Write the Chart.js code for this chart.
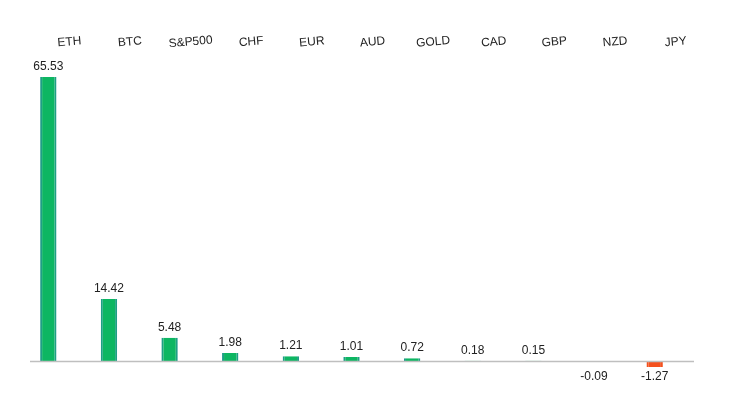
<!DOCTYPE html><html><head><script src="https://cdn.jsdelivr.net/npm/chart.js@4"></script>
<style>body{margin:0;background:#fff}#w{width:736px;height:406px}</style></head><body><div id="w"><canvas id="c"></canvas></div>
<script>
const categories=["ETH","BTC","S&P500","CHF","EUR","AUD","GOLD","CAD","GBP","NZD","JPY"];
const values=[65.53,14.42,5.48,1.98,1.21,1.01,0.72,0.18,0.15,-0.09,-1.27];
const valueLabels=["65.53","14.42","5.48","1.98","1.21","1.01","0.72","0.18","0.15","-0.09","-1.27"];
const labelPlugin={id:'lbl',afterDatasetsDraw(ch){
 const ctx=ch.ctx,x=ch.scales.x,y=ch.scales.y,meta=ch.getDatasetMeta(0);
 ctx.save();
 ctx.strokeStyle='#bfbfbf';ctx.lineWidth=1.5;ctx.beginPath();
 const y0=Math.round(y.getPixelForValue(0))+0.5;ctx.moveTo(30,y0);ctx.lineTo(694,y0);ctx.stroke();
 ctx.fillStyle='#222';ctx.font='12px "Liberation Sans", Calibri, sans-serif';ctx.textAlign='center';
 meta.data.forEach((b,i)=>{
  const v=values[i];
  let ty=v>=0?b.y-7:y0+18;
  ctx.textBaseline='alphabetic';
  ctx.fillText(valueLabels[i],b.x,ty);
  ctx.save();ctx.translate(b.x+21,42);ctx.rotate(-5*Math.PI/180);ctx.textBaseline='middle';
  ctx.fillText(categories[i],0,0);ctx.restore();
 });
 ctx.restore();}};
new Chart(document.getElementById('c'),{type:'bar',
 data:{labels:categories,datasets:[{data:values,
  backgroundColor:values.map(v=>v<0?'#f4511e':'#0db662'),
  borderColor:values.map(v=>v<0?'#f4511e':'#1f9e86'),borderWidth:{left:2,right:2,top:0,bottom:0},
  barPercentage:0.27,categoryPercentage:1}]},
 options:{responsive:true,maintainAspectRatio:false,animation:false,
  layout:{padding:{top:77,bottom:39,left:18,right:51}},
  plugins:{legend:{display:false},tooltip:{enabled:false}},
  scales:{x:{display:false},y:{display:false,min:-1.27,max:65.53}}},
 plugins:[labelPlugin]});
</script></body></html>
